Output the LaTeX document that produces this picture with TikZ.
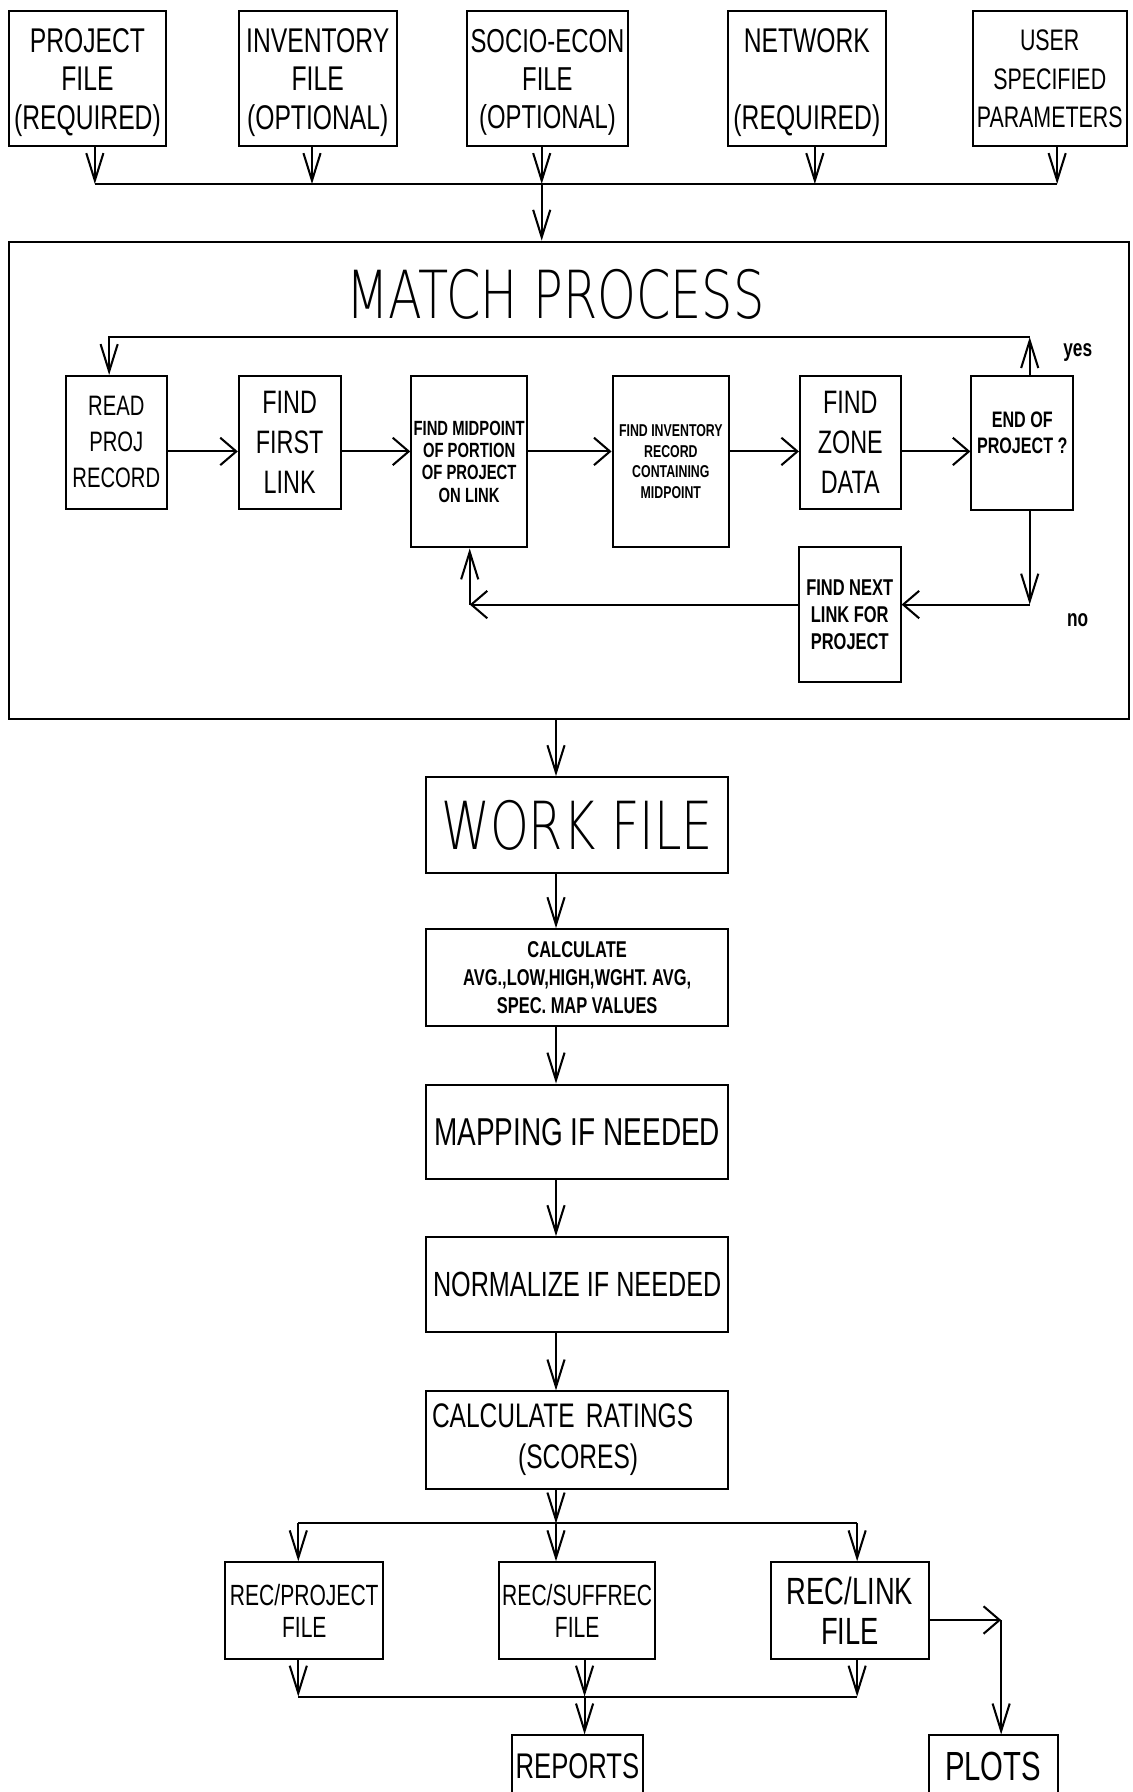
\documentclass[tikz,border=0pt]{standalone}
\usepackage{fontspec}
\setmainfont{Liberation Sans}[FakeStretch=0.72]
\newfontfamily\thinfont{DejaVu Sans ExtraLight}[FakeStretch=0.745]
\usetikzlibrary{arrows.meta}
\newcommand{\setfs}[2]{\fontsize{#1}{#2}\selectfont}
\tikzset{
  box/.style={draw, line width=0.9pt, inner sep=1pt, align=center},
  topbox/.style={box, minimum height=59pt, text depth=0pt},
  lowbox/.style={box, minimum width=132pt},
  vto/.style={line width=0.9pt, -{Straight Barb[length=12pt,width=7.5pt]}},
  hto/.style={line width=0.9pt, -{Straight Barb[length=7pt,width=12pt]}},
  bus/.style={line width=0.9pt},
}

\begin{document}
\begin{tikzpicture}[x=0.5pt, y=-0.5pt]
  \path[use as bounding box, fill=white] (0,0) rectangle (991,1568);

  % input files
  \node[topbox, minimum width=68.5pt, font=\setfs{15}{16.75}] (proj) at (76.5,69) {PROJECT\\FILE\\(REQUIRED)};
  \node[topbox, minimum width=69pt, font=\setfs{15}{16.75}] (inv) at (278,69) {INVENTORY\\FILE\\(OPTIONAL)};
  \node[topbox, minimum width=70.5pt, font=\setfs{14.5}{16.75}] (socio) at (479,69) {SOCIO-ECON\\FILE\\(OPTIONAL)};
  \node[topbox, minimum width=69pt, font=\setfs{15}{16.75}] (net) at (706,69) {NETWORK\\~\\(REQUIRED)};
  \node[topbox, minimum width=67.5pt, font=\setfs{13}{16.75}, text depth=-3pt] (user) at (918.5,69) {USER\\SPECIFIED\\PARAMETERS};

  \coordinate (b1) at (83,161);
  \coordinate (b2) at (273,161);
  \coordinate (b3) at (474,161);
  \coordinate (b4) at (713,161);
  \coordinate (b5) at (925,161);
  \draw[vto] (proj.south -| b1) -- (b1);
  \draw[vto] (inv.south -| b2) -- (b2);
  \draw[vto] (socio.south -| b3) -- (b3);
  \draw[vto] (net.south -| b4) -- (b4);
  \draw[vto] (user.south -| b5) -- (b5);
  \draw[bus] (b1) -- (b5);

  % match process
  \node[draw, line width=0.9pt, inner sep=0pt, minimum width=490.25pt, minimum height=208.75pt] (match) at (497.75,420.25) {};
  \node[font=\thinfont\setfs{29}{30}] (title) at (486,258) {MATCH PROCESS};
  \draw[vto] (b3) -- (b3 |- match.north);

  \node[box, minimum width=44.2pt, minimum height=58pt, font=\setfs{12.3}{15.7}] (read) at (101.8,387) {READ\\PROJ\\RECORD};
  \node[box, minimum width=44.5pt, minimum height=58pt, font=\setfs{14.2}{17.5}] (first) at (253.5,387) {FIND\\FIRST\\LINK};
  \node[box, minimum width=50.5pt, minimum height=75pt, font=\bfseries\setfs{9}{9.7}] (mid) at (410.5,404) {FIND MIDPOINT\\OF PORTION\\OF PROJECT\\ON LINK};
  \node[box, minimum width=51pt, minimum height=75pt, font=\bfseries\setfs{7.5}{9}] (invrec) at (587,404) {FIND INVENTORY\\RECORD\\CONTAINING\\MIDPOINT};
  \node[box, minimum width=44pt, minimum height=58pt, font=\setfs{14.2}{17.5}] (zone) at (744,387) {FIND\\ZONE\\DATA};
  \node[box, minimum width=44.5pt, minimum height=58.5pt, text depth=9pt, font=\bfseries\setfs{9.8}{11.7}] (endp) at (894.5,387.5) {END OF\\PROJECT ?};
  \node[box, minimum width=44.5pt, minimum height=59pt, font=\bfseries\setfs{10}{11.7}] (next) at (743.5,538) {FIND NEXT\\LINK FOR\\PROJECT};

  \coordinate (row) at (0,395);
  \draw[hto] (read.east |- row) -- (first.west |- row);
  \draw[hto] (first.east |- row) -- (mid.west |- row);
  \draw[hto] (mid.east |- row) -- (invrec.west |- row);
  \draw[hto] (invrec.east |- row) -- (zone.west |- row);
  \draw[hto] (zone.east |- row) -- (endp.west |- row);

  \coordinate (ytop) at (901,295);
  \coordinate (ltop) at (95.5,295);
  \draw[vto] (endp.north -| ytop) -- (ytop);
  \draw[vto] (ytop) -- (ltop) -- (read.north -| ltop);
  \node[font=\bfseries\setfs{10.5}{12}, anchor=base] (yes) at (943,312) {yes};

  \coordinate (ncor) at (901,529);
  \coordinate (mcor) at (411,529);
  \draw[vto] (endp.south -| ncor) -- (ncor);
  \draw[hto] (ncor) -- (next.east |- ncor);
  \draw[hto] (next.west |- ncor) -- (mcor);
  \draw[vto] (mcor) -- (mid.south -| mcor);
  \node[font=\bfseries\setfs{10.5}{12}, anchor=base] (no) at (943,548) {no};

  % processing chain
  \node[lowbox, minimum height=42pt, font=\thinfont\setfs{29}{30}] (work) at (505,722) {WORK FILE};
  \node[lowbox, minimum height=42.5pt, font=\bfseries\setfs{10}{12.4}] (calc) at (505,855.5) {CALCULATE\\AVG.,LOW,HIGH,WGHT. AVG,\\SPEC. MAP VALUES};
  \node[lowbox, minimum height=41.5pt, font=\setfs{17}{18}] (map) at (505,990.5) {MAPPING IF NEEDED};
  \node[lowbox, minimum height=41.5pt, font=\setfs{15.3}{16}] (norm) at (505,1124) {NORMALIZE IF NEEDED};
  \node[lowbox, minimum height=42.5pt, text width=127pt, align=left, font=\setfs{14.9}{18}] (rate) at (505,1260) {CALCULATE RATINGS\\\hspace*{37.7pt}(SCORES)};

  \coordinate (col) at (486.5,0);
  \draw[vto] (match.south -| col) -- (work.north -| col);
  \draw[vto] (work.south -| col) -- (calc.north -| col);
  \draw[vto] (calc.south -| col) -- (map.north -| col);
  \draw[vto] (map.south -| col) -- (norm.north -| col);
  \draw[vto] (norm.south -| col) -- (rate.north -| col);

  % outputs
  \node[box, minimum width=69.25pt, minimum height=42.3pt, font=\setfs{12.8}{14}] (recp) at (266.25,1409.3) {REC/PROJECT\\FILE};
  \node[box, minimum width=68.5pt, minimum height=42.3pt, font=\setfs{12.8}{14}] (recs) at (505,1409.3) {REC/SUFFREC\\FILE};
  \node[box, minimum width=68.9pt, minimum height=42.3pt, font=\setfs{16.6}{17.3}] (recl) at (743.7,1409.3) {REC/LINK\\FILE};
  \node[box, minimum width=57.25pt, minimum height=27.25pt, font=\setfs{15.6}{16}] (reports) at (505.25,1545.75) {REPORTS};
  \node[box, minimum width=56.4pt, minimum height=27.25pt, font=\setfs{17.8}{18}] (plots) at (869,1545.75) {PLOTS};

  \coordinate (c2l) at (261,1333);
  \coordinate (c2) at (486.5,1333);
  \coordinate (c2r) at (750,1333);
  \draw[vto] (rate.south -| c2) -- (c2);
  \draw[bus] (c2l) -- (c2r);
  \draw[vto] (c2l) -- (recp.north -| c2l);
  \draw[vto] (c2) -- (recs.north -| c2);
  \draw[vto] (c2r) -- (recl.north -| c2r);

  \coordinate (c3l) at (261,1484.5);
  \coordinate (c3) at (511.5,1484.5);
  \coordinate (c3r) at (750,1484.5);
  \draw[vto] (recp.south -| c3l) -- (c3l);
  \draw[vto] (recs.south -| c3) -- (c3);
  \draw[vto] (recl.south -| c3r) -- (c3r);
  \draw[bus] (c3l) -- (c3r);
  \draw[vto] (c3) -- (reports.north -| c3);

  \coordinate (pcor) at (876,1417.5);
  \draw[hto] (recl.east |- pcor) -- (pcor);
  \draw[vto] (pcor) -- (plots.north -| pcor);
\end{tikzpicture}
\end{document}
